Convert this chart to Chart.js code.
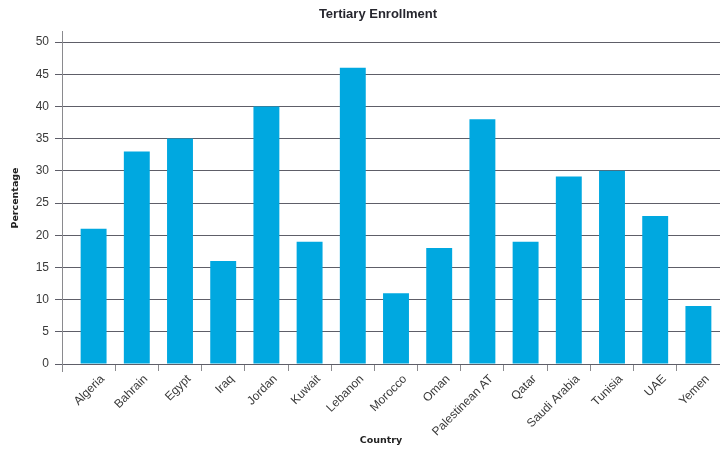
<!DOCTYPE html>
<html>
<head>
<meta charset="utf-8">
<script src="https://cdn.jsdelivr.net/npm/chart.js@4"></script>
<style>
  html, body { margin: 0; padding: 0; background: #fff; }
  #wrap { width: 720px; height: 449px; position: relative; }
</style>
</head>
<body>
<div id="wrap"><canvas id="c"></canvas></div>
<script>
const countries = ["Algeria", "Bahrain", "Egypt", "Iraq", "Jordan", "Kuwait", "Lebanon", "Morocco",
    "Oman", "Palestinean AT", "Qatar", "Saudi Arabia", "Tunisia", "UAE", "Yemen"];
const enrollment = [21, 33, 35, 16, 40, 19, 46, 11, 18, 38, 19, 29.1, 30, 23, 9];
const yTicks = [0, 5, 10, 15, 20, 25, 30, 35, 40, 45, 50];

const chartTitle = "Tertiary Enrollment";
const xTitle = "Country";
const yTitle = "Percentage";

const barColor = '#00a8e0';
const lineColor = '#5e5e68';
const tickColor = '#8a8a8e';
const textColor = '#3a3a3a';

// titles and the left axis line (it sits a bit left of the first category)
const extras = {
    id: 'extras',
    afterDraw(chart) {
        const { ctx, scales: { y } } = chart;
        const axX = Math.round(y.right - 10) + 0.5;
        ctx.save();
        ctx.strokeStyle = tickColor;
        ctx.lineWidth = 1;
        ctx.beginPath();
        ctx.moveTo(axX, y.top - 11);
        ctx.lineTo(axX, y.bottom + 8);
        ctx.stroke();

        ctx.fillStyle = '#26262e';
        ctx.textAlign = 'center';
        ctx.textBaseline = 'middle';
        ctx.font = 'bold 13px "Liberation Sans", Arial, sans-serif';
        ctx.fillText(chartTitle, 378, 14);

        ctx.fillStyle = '#222';
        ctx.font = 'bold 9.5px "DejaVu Sans"';
        ctx.fillText(xTitle, 381, 441);

        ctx.translate(16, 198);
        ctx.rotate(-Math.PI / 2);
        ctx.fillText(yTitle, 0, 0);
        ctx.restore();
    }
};

new Chart(document.getElementById('c'), {
    type: 'bar',
    data: {
        labels: countries,
        datasets: [{
            data: enrollment,
            backgroundColor: barColor,
            borderWidth: 0,
            categoryPercentage: 1,
            barPercentage: 0.6
        }]
    },
    options: {
        responsive: true,
        maintainAspectRatio: false,
        animation: false,
        layout: { padding: { top: 42, right: 0, bottom: 0, left: 0 } },
        plugins: {
            legend: { display: false },
            tooltip: { enabled: false },
            title: { display: false }
        },
        scales: {
            x: {
                afterFit: s => { s.height = 85; },
                border: { display: false },
                grid: {
                    drawOnChartArea: false,
                    drawTicks: true,
                    tickLength: 7,
                    color: c => c.index === 0 ? 'rgba(0,0,0,0)' : tickColor
                },
                ticks: {
                    autoSkip: false,
                    maxRotation: 45,
                    minRotation: 45,
                    padding: 1,
                    labelOffset: 9,
                    color: textColor,
                    font: { family: '"Liberation Sans", Arial, sans-serif', size: 12 }
                }
            },
            y: {
                min: 0,
                max: 50,
                afterFit: s => { s.width = 72; },
                afterBuildTicks: s => { s.ticks = yTicks.map(v => ({ value: v })); },
                border: { display: false },
                grid: {
                    color: lineColor,
                    lineWidth: 1,
                    drawTicks: true,
                    tickLength: 17
                },
                ticks: {
                    padding: 6,
                    color: textColor,
                    font: { family: '"Liberation Sans", Arial, sans-serif', size: 12 }
                }
            }
        }
    },
    plugins: [extras]
});
</script>
</body>
</html>
